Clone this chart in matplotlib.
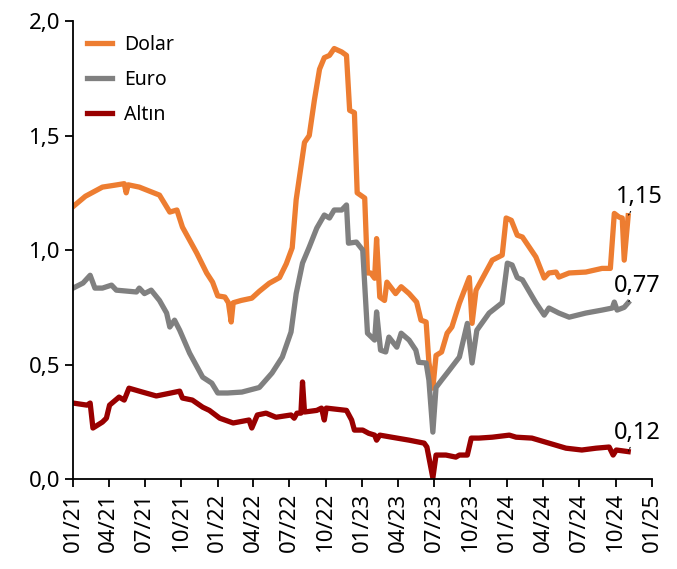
import matplotlib
matplotlib.use("Agg")
import matplotlib.pyplot as plt
import matplotlib.dates as mdates
from matplotlib.ticker import FuncFormatter, MultipleLocator
import pandas as pd

# values
dolar_dates = [
    "2021-01-01", "2021-02-01", "2021-03-16", "2021-04-15", "2021-05-10", "2021-05-15",
    "2021-05-20", "2021-06-17",
    "2021-08-07", "2021-09-02", "2021-09-20", "2021-10-04", "2021-11-09", "2021-12-04",
    "2021-12-19", "2022-01-01", "2022-01-19", "2022-01-28", "2022-02-04", "2022-02-09",
    "2022-03-01", "2022-03-28", "2022-04-16", "2022-05-11", "2022-06-06", "2022-06-23",
    "2022-07-08", "2022-07-18", "2022-08-08", "2022-08-20", "2022-09-02", "2022-09-15",
    "2022-09-27", "2022-10-10", "2022-10-22", "2022-11-10", "2022-11-22", "2022-11-30",
    "2022-12-12", "2022-12-19", "2023-01-07", "2023-01-14", "2023-01-22", "2023-02-01",
    "2023-02-06", "2023-02-14", "2023-02-26", "2023-03-04", "2023-03-26", "2023-04-09",
    "2023-04-29", "2023-05-18", "2023-05-29", "2023-06-11", "2023-06-18", "2023-06-28",
    "2023-07-06", "2023-07-20", "2023-08-03", "2023-08-15", "2023-09-03", "2023-09-28",
    "2023-10-05", "2023-10-15", "2023-11-25", "2023-12-20", "2023-12-30", "2024-01-12",
    "2024-01-27", "2024-02-09", "2024-03-14", "2024-04-04", "2024-04-16", "2024-05-04",
    "2024-05-11", "2024-06-06", "2024-07-18", "2024-08-28", "2024-09-18", "2024-09-28",
    "2024-10-10", "2024-10-18", "2024-10-23", "2024-11-02",
]
dolar = [
    1.19, 1.235, 1.275, 1.283, 1.29, 1.25,
    1.285, 1.275,
    1.24, 1.166, 1.175, 1.10, 0.987, 0.90,
    0.86, 0.80, 0.795, 0.77, 0.686, 0.77,
    0.78, 0.79, 0.82, 0.855, 0.88, 0.94,
    1.01, 1.22, 1.47, 1.50, 1.655, 1.79,
    1.84, 1.85, 1.88, 1.865, 1.85, 1.61,
    1.60, 1.25, 1.227, 0.90, 0.90, 0.877,
    1.05, 0.795, 0.78, 0.86, 0.81, 0.84,
    0.81, 0.773, 0.694, 0.686, 0.51, 0.397,
    0.54, 0.555, 0.637, 0.664, 0.768, 0.88,
    0.68, 0.825, 0.956, 0.978, 1.14, 1.13,
    1.065, 1.057, 0.97, 0.878, 0.90, 0.904,
    0.882, 0.90, 0.904, 0.92, 0.92, 1.16,
    1.144, 1.14, 0.956, 1.15,
]

euro_dates = [
    "2021-01-01", "2021-01-26", "2021-02-13", "2021-02-25", "2021-03-16", "2021-04-08",
    "2021-04-20", "2021-06-10", "2021-06-17", "2021-06-30", "2021-07-17", "2021-08-07",
    "2021-08-25", "2021-09-02", "2021-09-14", "2021-09-27", "2021-10-22", "2021-11-24",
    "2021-12-17", "2022-01-01", "2022-01-26", "2022-03-03", "2022-04-16", "2022-05-18",
    "2022-06-13", "2022-07-05", "2022-07-18", "2022-08-03", "2022-08-20", "2022-09-08",
    "2022-09-27", "2022-10-10", "2022-10-22", "2022-11-10", "2022-11-22", "2022-11-27",
    "2022-12-17", "2023-01-02", "2023-01-14", "2023-02-01", "2023-02-06", "2023-02-16",
    "2023-03-01", "2023-03-09", "2023-03-29", "2023-04-09", "2023-04-29", "2023-05-16",
    "2023-05-23", "2023-06-11", "2023-06-18", "2023-06-28", "2023-07-06", "2023-07-20",
    "2023-08-03", "2023-08-15", "2023-09-03", "2023-09-23", "2023-10-05", "2023-10-17",
    "2023-11-17", "2023-12-20", "2024-01-02", "2024-01-14", "2024-01-27", "2024-02-09",
    "2024-03-14", "2024-04-04", "2024-04-16", "2024-05-11", "2024-06-06", "2024-07-18",
    "2024-08-28", "2024-09-23", "2024-09-28", "2024-10-05", "2024-10-23", "2024-11-02",
]
euro = [
    0.834, 0.856, 0.89, 0.834, 0.834, 0.847,
    0.825, 0.817, 0.834, 0.81, 0.825, 0.78,
    0.725, 0.664, 0.694, 0.65, 0.55, 0.445,
    0.419, 0.376, 0.376, 0.38, 0.40, 0.463,
    0.533, 0.642, 0.81, 0.943, 1.013, 1.096,
    1.153, 1.14, 1.175, 1.175, 1.197, 1.03,
    1.035, 1.0, 0.637, 0.607, 0.73, 0.563,
    0.555, 0.62, 0.576, 0.637, 0.607, 0.563,
    0.51, 0.507, 0.432, 0.205, 0.40, 0.432,
    0.463, 0.49, 0.533, 0.68, 0.507, 0.65,
    0.725, 0.77, 0.943, 0.935, 0.88, 0.87,
    0.77, 0.716, 0.747, 0.725, 0.707, 0.725,
    0.738, 0.747, 0.773, 0.738, 0.75, 0.77,
]

altin_dates = [
    "2021-01-01", "2021-02-05", "2021-02-13", "2021-02-20", "2021-03-16", "2021-03-26",
    "2021-04-03", "2021-04-27", "2021-05-10", "2021-05-22", "2021-06-25", "2021-07-30",
    "2021-09-02", "2021-09-27", "2021-10-04", "2021-10-29", "2021-11-24", "2021-12-11",
    "2022-01-06", "2022-02-09", "2022-03-21", "2022-03-28", "2022-04-11", "2022-05-03",
    "2022-05-28", "2022-07-05", "2022-07-13", "2022-07-20", "2022-07-30", "2022-08-03",
    "2022-08-08", "2022-09-08", "2022-09-20", "2022-09-27", "2022-10-02", "2022-11-22",
    "2022-12-05", "2022-12-12", "2023-01-02", "2023-01-17", "2023-02-01", "2023-02-06",
    "2023-02-14", "2023-03-16", "2023-04-29", "2023-06-06", "2023-06-13", "2023-06-28",
    "2023-07-06", "2023-07-31", "2023-08-25", "2023-09-03", "2023-09-23", "2023-10-03",
    "2023-10-22", "2023-11-25", "2024-01-07", "2024-01-24", "2024-03-04", "2024-04-16",
    "2024-05-29", "2024-07-08", "2024-08-13", "2024-09-15", "2024-09-25", "2024-10-03",
    "2024-11-02",
]
altin = [
    0.332, 0.323, 0.332, 0.223, 0.249, 0.266,
    0.323, 0.358, 0.345, 0.397, 0.38, 0.363,
    0.375, 0.384, 0.354, 0.345, 0.314, 0.30,
    0.266, 0.245, 0.258, 0.223, 0.28, 0.288,
    0.27, 0.28, 0.266, 0.288, 0.288, 0.424,
    0.293, 0.30, 0.31, 0.258, 0.31, 0.30,
    0.258, 0.214, 0.214, 0.20, 0.192, 0.17,
    0.192, 0.183, 0.17, 0.157, 0.14, 0.005,
    0.105, 0.105, 0.096, 0.105, 0.105, 0.179,
    0.179, 0.183, 0.192, 0.183, 0.179, 0.157,
    0.135, 0.127, 0.135, 0.14, 0.105, 0.127,
    0.12,
]

series = [
    ("Dolar", dolar_dates, dolar, "#ED7D31", "1,15"),
    ("Euro", euro_dates, euro, "#808080", "0,77"),
    ("Altın", altin_dates, altin, "#990000", "0,12"),
]
label_offsets = {"Dolar": (11, 19), "Euro": (9, 17), "Altın": (9, 19)}

plt.rcParams["font.family"] = ["Noto Sans", "DejaVu Sans"]

fig, ax = plt.subplots(figsize=(6.77, 5.69), dpi=100)
fig.subplots_adjust(left=0.108, right=0.963, top=0.963, bottom=0.158)

for name, d, v, color, lab in series:
    x = pd.to_datetime(d)
    ax.plot(x, v, color=color, lw=3.8, label=name, solid_joinstyle="round")
    ax.annotate(lab, xy=(x[-1], v[-1]), xytext=label_offsets[name],
                textcoords="offset pixels", ha="center", va="center", fontsize=17,
                arrowprops=dict(arrowstyle="-", lw=0.8, ls=":", color="black",
                                shrinkA=7, shrinkB=0))

ax.set_xlim(pd.Timestamp("2021-01-01"), pd.Timestamp("2025-01-01"))
ax.set_ylim(0, 2.0)
ax.yaxis.set_major_locator(MultipleLocator(0.5))
ax.yaxis.set_major_formatter(FuncFormatter(lambda v, p: f"{v:.1f}".replace(".", ",")))
ax.xaxis.set_major_locator(mdates.MonthLocator(bymonth=[1, 4, 7, 10]))
ax.xaxis.set_major_formatter(mdates.DateFormatter("%m/%y"))

for s in ["top", "right"]:
    ax.spines[s].set_visible(False)
for s in ["left", "bottom"]:
    ax.spines[s].set_linewidth(1.3)
ax.tick_params(axis="both", direction="out", length=6, width=1.3, labelsize=16)
ax.tick_params(axis="x", rotation=90, pad=4)

leg = ax.legend(loc="upper left", frameon=False, fontsize=14, handlelength=1.3,
                handletextpad=0.6, labelspacing=0.78, borderaxespad=0.3,
                bbox_to_anchor=(0.0, 1.0))

fig.savefig("out.png", dpi=100)
